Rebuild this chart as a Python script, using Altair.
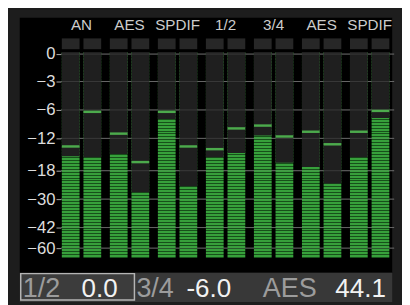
import json
import altair as alt
import pandas as pd

# ---- data ----
groups = ["AN", "AES", "SPDIF", "1/2", "3/4", "AES", "SPDIF"]
sides = ["L", "R"]
levels = [-15.3, -15.5, -14.9, -27.1, -7.9, -24.6, -15.5, -14.7, -11.4, -16.5, -17.3, -23.4, -15.5, -7.7]
peaks = [-13.5, -6.4, -11.0, -16.4, -6.4, -13.5, -14.0, -9.9, -9.3, -11.6, -10.6, -13.1, -10.6, -6.2]
scale_ticks = [0, -3, -6, -12, -18, -30, -42, -60]
status_labels = ["1/2", "3/4", "AES"]
status_values = ["0.0", "-6.0", "44.1"]

rows = []
for i, (lv, pk) in enumerate(zip(levels, peaks)):
    rows.append({"pair": i // 2, "side": sides[i % 2], "level": lv, "peak": pk})
df = pd.DataFrame(rows)
grid_df = pd.DataFrame({"db": scale_ticks})
one = pd.DataFrame({"k": [0]})

FONT = "Liberation Sans"

# piecewise meter scale (non-linear dB markings)
ydom = [-80, -60, -42, -30, -18, -12, -6, -3, 0, 1]
yrng = [245, 235, 214, 185, 156, 123, 94, 65, 37, 35]
yscale = alt.Scale(type="linear", domain=ydom, range=yrng, nice=False, zero=False, clamp=True)
yaxis = alt.Axis(values=scale_ticks, title=None, orient="left", offset=-42, domain=False,
                 tickSize=5, tickColor="#aaaaaa", tickWidth=1, labelPadding=1,
                 labelFontSize=17, labelColor="#dddddd", labelFont=FONT, grid=False)

xscale = alt.Scale(type="band", domain=list(range(len(groups))), range=[38.5, 381.5],
                   paddingInner=0, paddingOuter=0)
xaxis = alt.Axis(orient="top", offset=-17, title=None, domain=False, ticks=False,
                 labelPadding=2, labelFontSize=15.5, labelColor="#cccccc", labelFont=FONT,
                 labelAngle=0, labelExpr=json.dumps(groups) + "[datum.value]")
X = alt.X("pair:O", scale=xscale, axis=xaxis)
XO = alt.XOffset("side:N", scale=alt.Scale(domain=sides, paddingInner=0.18, paddingOuter=0.2))

# LED-segment stripes
n = 70
stops = []
for i in range(n):
    a = i / n
    b = (i + 0.66) / n
    c = (i + 1) / n
    stops += [alt.GradientStop(offset=a, color="#37a03b"),
              alt.GradientStop(offset=b, color="#37a03b"),
              alt.GradientStop(offset=b, color="#17501a"),
              alt.GradientStop(offset=c, color="#17501a")]
stripes = alt.Gradient(gradient="linear", stops=stops, x1=0, x2=0, y1=0, y2=1)

base = alt.Chart(df)

grid_back = alt.Chart(grid_df).mark_rule(color="#5e5e5e", strokeWidth=1).encode(
    y=alt.Y("db:Q", scale=yscale, axis=yaxis), x=alt.value(42), x2=alt.value(382))

green = base.mark_bar(fill=stripes).encode(
    x=X, xOffset=XO,
    y=alt.YDatum(-80, type="quantitative", scale=yscale, axis=yaxis),
    y2=alt.Y2Datum(1))

cover = base.mark_bar(color="#1f1f1f").encode(
    x=X, xOffset=XO,
    y=alt.Y("level:Q", scale=yscale, axis=yaxis),
    y2=alt.Y2Datum(1))

grid_front = alt.Chart(grid_df).mark_rule(color="#8a8a8a", strokeWidth=1, opacity=0.25).encode(
    y=alt.Y("db:Q", scale=yscale, axis=yaxis), x=alt.value(42), x2=alt.value(382))

peak = base.mark_tick(color="#5fe65f", thickness=2.5, size=18).encode(
    x=X, xOffset=XO, y=alt.Y("peak:Q", scale=yscale, axis=yaxis))

clip = base.mark_bar(color="#272727").encode(
    x=X, xOffset=XO, y=alt.value(21), y2=alt.value(32))

status_bar = alt.Chart(one).mark_rect(color="#383838").encode(
    x=alt.value(0), x2=alt.value(380), y=alt.value(260), y2=alt.value(290))

box = alt.Chart(one).mark_rect(fill="#3c3c3c", stroke="#b4b4b4", strokeWidth=1.5).encode(
    x=alt.value(1), x2=alt.value(117), y=alt.value(261), y2=alt.value(288))

label_x = [3, 119, 248]
value_x = [63, 170, 322]
texts = []
for t, xp in zip(status_labels, label_x):
    texts.append(alt.Chart(one).mark_text(text=t, align="left", baseline="alphabetic",
                                          fontSize=27.5, font=FONT, color="#9c9c9c").encode(
        x=alt.value(xp), y=alt.value(285)))
for t, xp in zip(status_values, value_x):
    texts.append(alt.Chart(one).mark_text(text=t, align="left", baseline="alphabetic",
                                          fontSize=26.5, font=FONT, color="#f2f2f2").encode(
        x=alt.value(xp), y=alt.value(285)))

chart = alt.layer(grid_back, green, cover, grid_front, peak, clip, status_bar, box, *texts).properties(
    width=380, height=260, background="#1d1d1d",
    padding={"left": 12, "top": 7, "right": 10, "bottom": 30},
    autosize=alt.AutoSizeParams(type="none"),
).configure_view(fill="black", stroke=None)

chart.save("out.html", embed_options={"renderer": "svg", "actions": False})
